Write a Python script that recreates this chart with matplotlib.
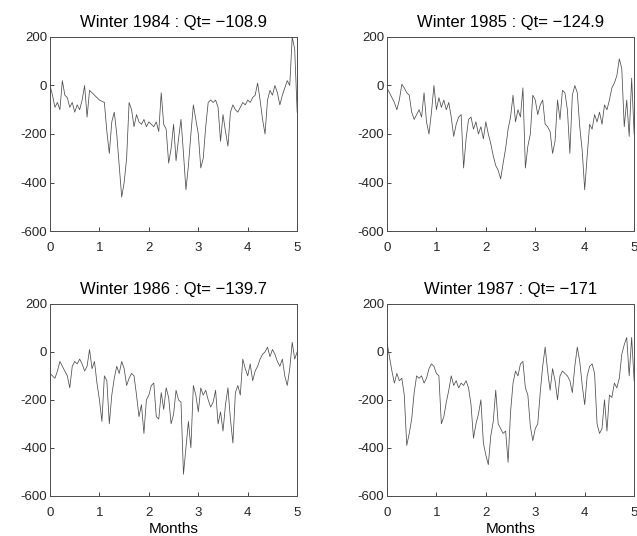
import matplotlib.pyplot as plt
import numpy as np

plt.rcParams['font.family'] = ['Liberation Sans', 'DejaVu Sans']

q1984 = [0, -40, -90, -70, -100, 20, -40, -50, -90, -70,
         -110, -80, -100, -60, 0, -130, -20, -30, -40, -50,
         -60, -65, -70, -190, -280, -150, -110, -200, -330, -460,
         -400, -300, -70, -100, -170, -120, -150, -160, -140, -170,
         -150, -160, -170, -150, -190, -30, -160, -180, -320, -260,
         -160, -310, -220, -140, -280, -430, -330, -200, -80, -140,
         -200, -340, -300, -170, -70, -60, -70, -60, -90, -230,
         -120, -190, -250, -110, -80, -100, -110, -90, -70, -80,
         -60, -70, -50, -40, 10, -60, -140, -200, -60, -20,
         -40, 0, -30, -80, -40, -10, 20, 0, 200, 150, -110]
q1985 = [-10, -30, -50, -70, -100, -60, 5, -10, -30, -40,
         -110, -140, -120, -100, -130, -30, -150, -200, -110, 0,
         -100, -50, -90, -60, -100, -70, -130, -210, -160, -130,
         -120, -340, -220, -140, -130, -180, -150, -200, -170, -220,
         -150, -200, -240, -290, -330, -350, -385, -320, -260, -180,
         -130, -40, -150, -100, -130, -10, -340, -250, -200, -40,
         -60, -120, -80, -60, -160, -170, -190, -280, -230, -60,
         -140, -20, -30, -100, -280, -40, 0, -30, -170, -270,
         -430, -290, -160, -180, -120, -150, -110, -160, -80, -100,
         -60, -10, 10, 40, 110, 70, -170, -60, -210, 30, -200]
q1986 = [-90, -100, -110, -80, -40, -60, -80, -100, -150, -60,
         -40, -50, -30, -50, -80, -60, 10, -70, -40, -130,
         -200, -290, -100, -120, -300, -180, -110, -60, -90, -40,
         -70, -140, -110, -90, -100, -180, -270, -220, -340, -200,
         -180, -140, -130, -270, -280, -170, -240, -150, -190, -300,
         -260, -160, -200, -210, -510, -400, -290, -400, -140, -180,
         -250, -150, -180, -160, -200, -230, -210, -160, -300, -250,
         -330, -220, -150, -280, -380, -170, -140, -180, -30, -70,
         -100, -50, -120, -80, -60, -30, -10, 0, 20, -20,
         10, -10, -40, -60, -30, -100, -140, -70, 40, -30, 0]
q1987 = [40, -20, -80, -130, -90, -120, -110, -180, -390, -340,
         -280, -170, -100, -110, -100, -130, -110, -70, -50, -60,
         -90, -100, -300, -270, -210, -160, -100, -140, -120, -150,
         -130, -140, -120, -150, -220, -360, -300, -260, -200, -380,
         -430, -470, -350, -290, -160, -300, -320, -340, -330, -460,
         -250, -130, -80, -100, -50, -40, -150, -180, -310, -370,
         -320, -300, -170, -60, 20, -80, -160, -70, -120, -200,
         -100, -80, -90, -100, -120, -170, -60, 20, -40, -140,
         -220, -100, -60, -50, -90, -300, -340, -320, -200, -330,
         -180, -190, -130, -150, -110, -10, 30, 60, -100, 60, -120]

series = [q1984, q1985, q1986, q1987]
titles = ['Winter 1984 : Qt= \u2212108.9', 'Winter 1985 : Qt= \u2212124.9',
          'Winter 1986 : Qt= \u2212139.7', 'Winter 1987 : Qt= \u2212171']

fig = plt.figure(figsize=(6.37, 5.36), dpi=100)
boxes = [[0.0785, 0.569, 0.388, 0.362], [0.6075, 0.569, 0.388, 0.362],
         [0.0785, 0.075, 0.388, 0.358], [0.6075, 0.075, 0.388, 0.358]]

for i in range(4):
    ax = fig.add_axes(boxes[i])
    q = series[i]
    months = np.arange(len(q)) / 20.0
    ax.plot(months, q, color='0.3', lw=0.55)
    ax.set_xlim(0, 5)
    ax.set_ylim(-600, 200)
    ax.set_xticks([0, 1, 2, 3, 4, 5])
    ax.set_yticks([-600, -400, -200, 0, 200])
    ax.set_yticklabels(['-600', '-400', '-200', '0', '200'])
    ax.tick_params(direction='in', length=3, width=0.6, labelsize=9.5, pad=2, colors='0.15')
    ax.tick_params(axis='x', pad=8)
    for s in ax.spines.values():
        s.set_linewidth(0.7)
        s.set_color('0.3')
    ax.set_title(titles[i], fontsize=12, pad=7)
    if i >= 2:
        ax.set_xlabel('Months', fontsize=11, labelpad=2)

plt.savefig('out.png', dpi=100)
